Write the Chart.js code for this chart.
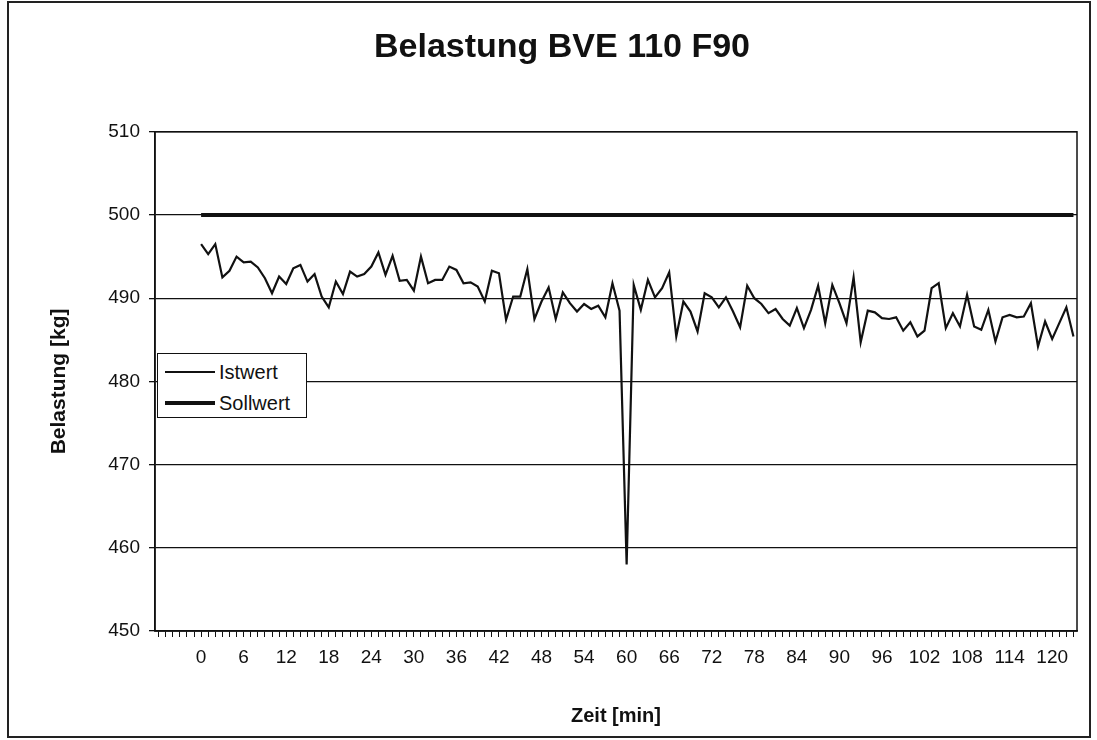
<!DOCTYPE html>
<html>
<head>
<meta charset="utf-8">
<script src="https://cdn.jsdelivr.net/npm/chart.js@4"></script>
<style>
html,body{margin:0;padding:0;background:#fff;}
#wrap{position:relative;width:1097px;height:740px;}
#legend{position:absolute;left:157px;top:353px;width:148px;height:63px;border:1.5px solid #111;background:#fff;font-family:"Liberation Sans",Arial,sans-serif;font-size:20px;color:#111;}
.row{position:absolute;left:0;height:24px;display:flex;align-items:center;}
.sw{display:inline-block;width:50px;margin-left:7px;margin-right:4px;background:#111;}
</style>
</head>
<body>
<div id="wrap">
<canvas id="c" width="1097" height="740"></canvas>
<div id="legend">
  <div class="row" style="top:6px"><span class="sw" style="height:2px"></span><span>Istwert</span></div>
  <div class="row" style="top:37px"><span class="sw" style="height:4px"></span><span>Sollwert</span></div>
</div>
</div>
<script>
// ---- data ----
const minutes = [0,1,2,3,4,5,6,7,8,9,10,11,12,13,14,15,16,17,18,19,20,21,22,23,24,25,26,27,28,29,
  30,31,32,33,34,35,36,37,38,39,40,41,42,43,44,45,46,47,48,49,50,51,52,53,54,55,56,57,58,59,
  60,61,62,63,64,65,66,67,68,69,70,71,72,73,74,75,76,77,78,79,80,81,82,83,84,85,86,87,88,89,
  90,91,92,93,94,95,96,97,98,99,100,101,102,103,104,105,106,107,108,109,110,111,112,113,114,115,116,117,118,119,
  120,121,122,123];
const istwert = [496.5,495.3,496.5,492.5,493.3,495.0,494.3,494.4,493.7,492.4,
  490.6,492.6,491.7,493.6,494.0,492.0,492.9,490.2,488.9,492.0,
  490.5,493.2,492.6,492.9,493.8,495.5,492.8,495.1,492.1,492.2,
  490.9,495.0,491.8,492.2,492.2,493.8,493.4,491.8,491.9,491.4,
  489.6,493.3,493.0,487.4,490.2,490.2,493.5,487.5,489.6,491.3,
  487.5,490.7,489.4,488.4,489.3,488.7,489.1,487.7,491.8,488.5,
  458.0,491.6,488.6,492.2,490.1,491.2,493.1,485.4,489.6,488.4,
  486.0,490.6,490.1,488.9,490.1,488.4,486.5,491.5,490.0,489.3,
  488.2,488.7,487.5,486.7,488.8,486.4,488.6,491.5,487.0,491.6,
  489.4,487.0,492.5,484.7,488.5,488.3,487.6,487.5,487.7,486.1,
  487.1,485.4,486.1,491.2,491.8,486.4,488.2,486.6,490.4,486.6,
  486.2,488.6,484.8,487.7,488.0,487.7,487.8,489.4,484.2,487.2,
  485.1,487.0,488.9,485.4];
const sollwertMinutes = [0, 123];
const sollwert = [500, 500];
const xTickLabels = [0,6,12,18,24,30,36,42,48,54,60,66,72,78,84,90,96,102,108,114,120];
const yTickValues = [450,460,470,480,490,500,510];
const xCategoryRange = [-6, 123];

// ---- chart ----
const FONT = '"Liberation Sans", Arial, Helvetica, sans-serif';
const INK = '#111';

const framePlugin = {
  id: 'frame',
  beforeDraw(chart) {
    const ctx = chart.ctx;
    ctx.save();
    ctx.fillStyle = '#fff';
    ctx.fillRect(0, 0, chart.width, chart.height);
    ctx.strokeStyle = '#222';
    ctx.lineWidth = 2;
    ctx.strokeRect(8, 2, 1082, 735);
    ctx.restore();
  },
  beforeDatasetsDraw(chart) {
    const a = chart.chartArea, ctx = chart.ctx;
    ctx.save();
    ctx.strokeStyle = INK;
    ctx.lineWidth = 1.5;
    ctx.strokeRect(a.left, a.top, a.right - a.left, a.bottom - a.top);
    ctx.restore();
  }
};

new Chart(document.getElementById('c'), {
  type: 'line',
  data: {
    datasets: [
      { label: 'Istwert', data: minutes.map((m, i) => ({ x: m, y: istwert[i] })),
        borderColor: INK, borderWidth: 2.2, pointRadius: 0, tension: 0, order: 1 },
      { label: 'Sollwert', data: sollwertMinutes.map((m, i) => ({ x: m, y: sollwert[i] })),
        borderColor: INK, borderWidth: 4, pointRadius: 0, tension: 0, order: 2 }
    ]
  },
  options: {
    responsive: false,
    animation: false,
    layout: { padding: { left: 47, right: 20, top: 0, bottom: 12 } },
    plugins: {
      legend: { display: false },
      tooltip: { enabled: false },
      title: { display: true, text: 'Belastung BVE 110 F90', color: INK,
        font: { family: FONT, size: 34, weight: 'bold', lineHeight: 1.2 },
        padding: { top: 27, bottom: 64 } }
    },
    scales: {
      x: {
        type: 'linear', min: xCategoryRange[0] - 0.5, max: xCategoryRange[1] + 0.5,
        afterBuildTicks: s => { const t = []; for (let v = xCategoryRange[0]; v <= xCategoryRange[1]; v++) t.push({ value: v }); s.ticks = t; },
        ticks: { autoSkip: false, maxRotation: 0, minRotation: 0, padding: 9, color: INK,
          font: { family: FONT, size: 19 },
          callback: v => xTickLabels.includes(v) ? String(v) : '' },
        grid: { drawOnChartArea: false, drawTicks: true, tickLength: 6, color: INK, lineWidth: 1 },
        border: { display: true, color: INK, width: 1.5 },
        title: { display: true, text: 'Zeit [min]', color: INK,
          font: { family: FONT, size: 20, weight: 'bold', lineHeight: 1.2 }, padding: 0 },
        afterFit: s => { s.height = 97; }
      },
      y: {
        min: 450, max: 510,
        afterBuildTicks: s => { s.ticks = yTickValues.map(v => ({ value: v })); },
        ticks: { padding: 9, color: INK, font: { family: FONT, size: 19 } },
        grid: { color: INK, lineWidth: 1.3, tickLength: 6, drawTicks: true },
        border: { display: true, color: INK, width: 1.5 },
        title: { display: true, text: 'Belastung [kg]', color: INK,
          font: { family: FONT, size: 21, weight: 'bold', lineHeight: 1.2 }, padding: 0 },
        afterFit: s => { s.width = 108; }
      }
    }
  },
  plugins: [framePlugin]
});
</script>
</body>
</html>
